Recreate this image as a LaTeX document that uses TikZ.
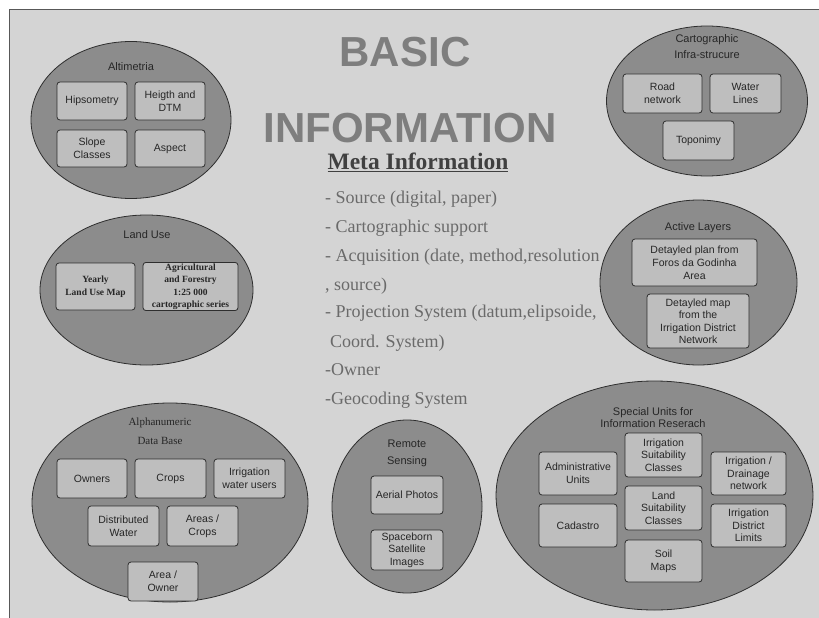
\documentclass[tikz,border=0pt]{standalone}
\usepackage{fontspec}
\setmainfont{Liberation Serif}
\setsansfont{Liberation Sans}
\usetikzlibrary{shapes.geometric}
\definecolor{bgc}{HTML}{D4D4D4}
\definecolor{ellc}{HTML}{8C8C8C}
\definecolor{boxc}{HTML}{BEBEBE}
\definecolor{linec}{HTML}{2E2E2E}
\definecolor{titlec}{HTML}{7E7E7E}
\definecolor{metac}{HTML}{6A6A6A}
\tikzset{
  bubble/.style={ellipse, draw=linec, fill=ellc, line width=0.8pt, inner sep=0pt},
  ubox/.style={draw=linec, fill=boxc, line width=0.8pt, rounded corners=3pt, inner sep=1pt,
    align=center, font=\sffamily\fontsize{10.5}{13}\selectfont, text=black!85},
  sbox/.style={ubox, font=\rmfamily\bfseries\fontsize{9.5}{12.5}\selectfont},
  etitle/.style={align=center, font=\sffamily\fontsize{11}{16}\selectfont, text=black!85},
  stitle/.style={align=center, font=\rmfamily\fontsize{11}{19}\selectfont, text=black!85},
  bigt/.style={font=\sffamily\bfseries\fontsize{42}{48}\selectfont, text=titlec},
  metal/.style={anchor=west, font=\rmfamily\fontsize{18}{20}\selectfont, text=metac, inner sep=0pt},
}
\begin{document}
\begin{tikzpicture}[x=1pt,y=-1pt]
\useasboundingbox (0,0) rectangle (819,618);
\fill[white] (0,0) rectangle (819,618);
\fill[bgc] (9,10) rectangle (819,618);
\draw[linec!80, line width=1pt] (9,618) -- (9,10) -- (819,10);

% Titles
\node[bigt] (basic) at (405,52) {BASIC};
\node[bigt] (info) at (410,128) {INFORMATION};
\node[font=\rmfamily\bfseries\fontsize{23.5}{25}\selectfont, text=black!75] (meta) at (418,162) {\underline{Meta Information}};
\node[metal] (m1) at (325,199) {- Source (digital, paper)};
\node[metal] (m2) at (325,228) {- Cartographic support};
\node[metal] (m3) at (325,257) {- Acquisition (date, method,resolution};
\node[metal] (m4) at (325,286) {, source)};
\node[metal] (m5) at (325,313) {- Projection System (datum,elipsoide,};
\node[metal] (m6) at (330,343) {Coord. System)};
\node[metal] (m7) at (325,370) {-Owner};
\node[metal] (m8) at (325,400) {-Geocoding System};

% Altimetria
\node[bubble, minimum width=200pt, minimum height=157pt] (alt) at (131,120) {};
\node[etitle] (altt) at (131,67) {Altimetria};
\node[ubox, minimum width=70pt, minimum height=38pt] (hips) at (92,101) {Hipsometry};
\node[ubox, minimum width=70pt, minimum height=38pt] (heig) at (170,101) {Heigth and\\DTM};
\node[ubox, minimum width=70pt, minimum height=37pt] (slope) at (92,148.5) {Slope\\Classes};
\node[ubox, minimum width=70pt, minimum height=37pt] (aspect) at (170,148.5) {Aspect};

% Cartographic
\node[bubble, minimum width=201pt, minimum height=150pt] (carto) at (707,101) {};
\node[etitle] (cartot) at (707,47) {Cartographic\\Infra-strucure};
\node[ubox, minimum width=79pt, minimum height=39pt] (road) at (662.5,93.5) {Road\\network};
\node[ubox, minimum width=71pt, minimum height=39pt] (water) at (745.5,93.5) {Water\\Lines};
\node[ubox, minimum width=71pt, minimum height=39pt] (topo) at (698.5,140.5) {Toponimy};

% Land Use
\node[bubble, minimum width=213pt, minimum height=150pt] (land) at (146.5,290) {};
\node[etitle] (landt) at (147,235) {Land Use};
\node[sbox, minimum width=79pt, minimum height=47pt] (yearly) at (95.5,286.5) {Yearly\\Land Use Map};
\node[sbox, minimum width=95pt, minimum height=47pt] (agri) at (190.5,286.5) {Agricultural\\and Forestry\\1:25 000\\cartographic series};

% Active Layers
\node[bubble, minimum width=197pt, minimum height=165pt] (active) at (698.5,282.5) {};
\node[etitle] (activet) at (698,228) {Active Layers};
\node[ubox, minimum width=125pt, minimum height=47pt] (plan) at (694.5,262.5) {Detayled plan from\\Foros da Godinha\\Area};
\node[ubox, minimum width=102pt, minimum height=54pt, font=\sffamily\fontsize{10.5}{12.5}\selectfont] (dmap) at (698,321) {Detayled map\\from the\\Irrigation District\\Network};

% Alphanumeric
\node[bubble, minimum width=276pt, minimum height=199pt] (alpha) at (170,502.5) {};
\node[stitle] (alphat) at (160,431.5) {Alphanumeric\\Data Base};
\node[ubox, minimum width=70pt, minimum height=39pt] (owners) at (92,478.5) {Owners};
\node[ubox, minimum width=71pt, minimum height=39pt] (crops) at (170.5,478.5) {Crops};
\node[ubox, minimum width=71pt, minimum height=39pt] (users) at (249.5,478.5) {Irrigation\\water users};
\node[ubox, minimum width=71pt, minimum height=40pt] (distw) at (123.5,526) {Distributed\\Water};
\node[ubox, minimum width=71pt, minimum height=40pt] (acrops) at (202.5,526) {Areas /\\Crops};
\node[ubox, minimum width=70pt, minimum height=39pt] (aowner) at (163,581.5) {Area /\\Owner};

% Remote Sensing
\node[bubble, minimum width=150pt, minimum height=173pt] (remote) at (407,506.5) {};
\node[etitle, font=\sffamily\fontsize{11}{17}\selectfont] (remotet) at (407,453.5) {Remote\\Sensing};
\node[ubox, minimum width=72pt, minimum height=38pt] (aerial) at (407,495) {Aerial Photos};
\node[ubox, minimum width=72pt, minimum height=40pt, font=\sffamily\fontsize{10.5}{12.5}\selectfont] (space) at (407,550) {Spaceborn\\Satellite\\Images};

% Special Units
\node[bubble, minimum width=317pt, minimum height=229pt] (special) at (654.5,495.5) {};
\node[etitle, font=\sffamily\fontsize{11}{12.5}\selectfont] (specialt) at (653,417.5) {Special Units for\\Information Reserach};
\node[ubox, minimum width=78pt, minimum height=43pt] (admin) at (578,473.5) {Administrative\\Units};
\node[ubox, minimum width=78pt, minimum height=43pt] (cad) at (578,525.5) {Cadastro};
\node[ubox, minimum width=77pt, minimum height=44pt, font=\sffamily\fontsize{10.5}{12.5}\selectfont] (irrsuit) at (663.5,455) {Irrigation\\Suitability\\Classes};
\node[ubox, minimum width=77pt, minimum height=44pt, font=\sffamily\fontsize{10.5}{12.5}\selectfont] (landsuit) at (663.5,508) {Land\\Suitability\\Classes};
\node[ubox, minimum width=77pt, minimum height=42pt] (soil) at (663.5,561) {Soil\\Maps};
\node[ubox, minimum width=75pt, minimum height=43pt, font=\sffamily\fontsize{10.5}{12.5}\selectfont] (drain) at (748.5,473.5) {Irrigation /\\Drainage\\network};
\node[ubox, minimum width=75pt, minimum height=43pt, font=\sffamily\fontsize{10.5}{12.5}\selectfont] (limits) at (748.5,525.5) {Irrigation\\District\\Limits};
\end{tikzpicture}
\end{document}
